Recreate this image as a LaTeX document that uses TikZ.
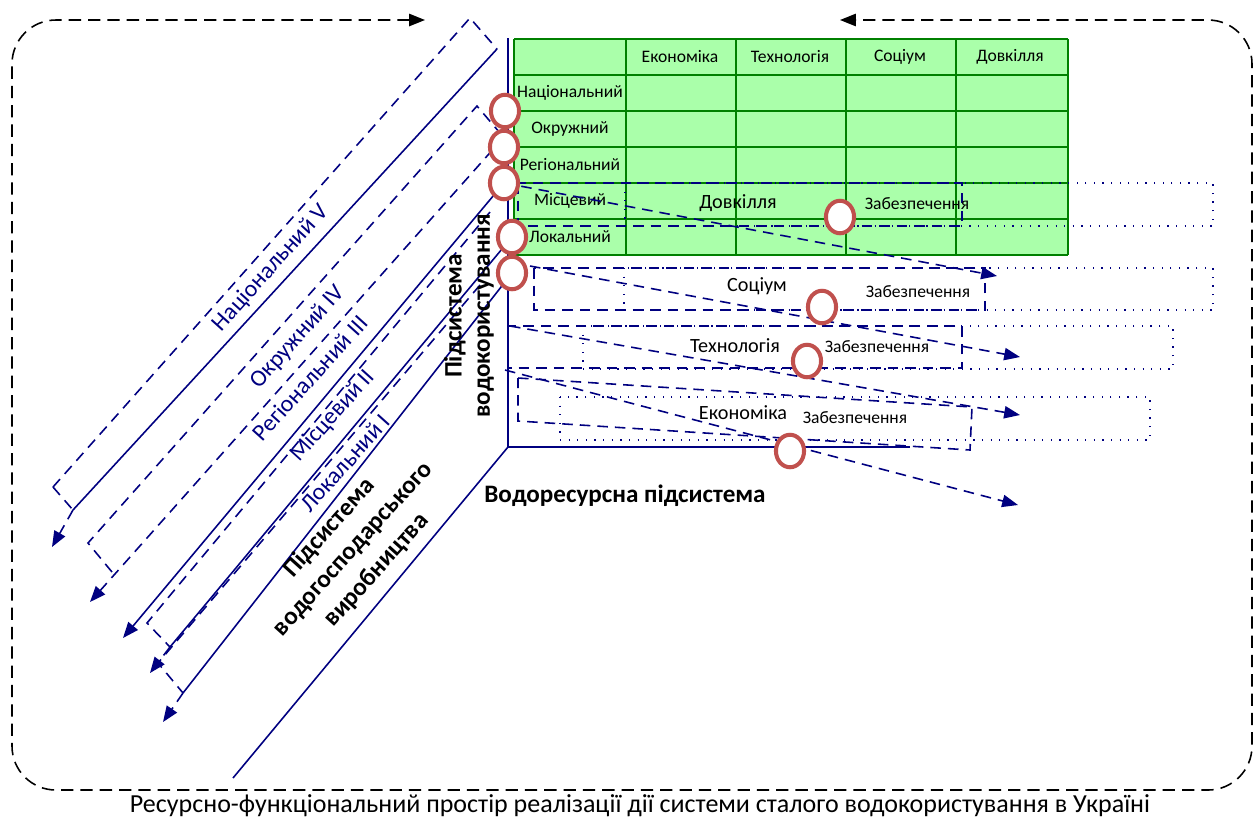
\documentclass[tikz,border=0pt]{standalone}
\usepackage{fontspec}
\setmainfont{Carlito}
\usetikzlibrary{arrows.meta,shapes.geometric,positioning}

\definecolor{levelblue}{RGB}{0,0,128}
\definecolor{ringred}{RGB}{192,80,77}
\definecolor{cellgreen}{RGB}{170,255,170}
\definecolor{gridgreen}{RGB}{0,128,0}

\tikzset{
  axisline/.style={levelblue, line width=0.9pt},
  dashline/.style={levelblue, line width=0.9pt, dash pattern=on 6pt off 4pt},
  dotline/.style={levelblue, line width=0.7pt, dash pattern=on 0.7pt off 4.2pt},
  tip/.style={arrows=-{Triangle[length=9pt,width=7pt]}},
  ring/.style={ellipse, draw=ringred, fill=white, line width=2.3pt,
    minimum width=16pt, minimum height=18.5pt, inner sep=0pt},
  celltext/.style={font=\fontsize{10}{12}\selectfont, inner sep=0pt},
  levellabel/.style={levelblue, font=\fontsize{13.5}{16}\selectfont, rotate=48, inner sep=0pt},
  subsys/.style={font=\bfseries\fontsize{14.3}{16}\selectfont, align=center, inner sep=0pt},
  rowname/.style={font=\fontsize{11.5}{14}\selectfont, inner sep=0pt},
  supply/.style={font=\fontsize{10}{12}\selectfont, inner sep=0pt},
}

\begin{document}
\begin{tikzpicture}[x=0.02cm, y=-0.02cm]
    \useasboundingbox (0,0) rectangle (1258,823);

    % frame and caption
    \draw[black, line width=0.9pt, dash pattern=on 7pt off 4pt, rounded corners=25pt,
      arrows={Triangle[length=9pt,width=7pt]-Triangle[length=9pt,width=7pt]}]
      (425,20) -- (12,20) -- (12,790) -- (1252,790) -- (1252,20) -- (840,20);
    \node[font=\fontsize{14.8}{17}\selectfont] (caption) at (640,806)
      {Ресурсно-функціональний простір реалізації дії системи сталого водокористування в Україні};

    % table
    \fill[cellgreen] (514,39) rectangle (1068,255);
    \foreach \x in {514,626,736,846,956,1068}
      \draw[gridgreen, line width=1.1pt] (\x,39) -- (\x,255);
    \foreach \y in {39,75,111,147,183,219,255}
      \draw[gridgreen, line width=1.1pt] (514,\y) -- (1068,\y);
    \foreach \t [count=\i] in {Економіка,Технологія,Соціум,Довкілля}
      \node[celltext] (head\i) at (570+110*\i,57) {\t};
    \foreach \t [count=\i] in {Національний,Окружний,Регіональний,Місцевий,Локальний}
      \node[celltext] (row\i) at (570,57+36*\i) {\t};

    % axes
    \coordinate (O) at (508,447);
    \draw[axisline] (508,38) -- (O) -- (910,447);
    \draw[axisline] (O) -- (233,778);

    % levels, left side
    \draw[dashline] (53,487) -- (470,18) -- (497,49);
    \draw[axisline] (497,49) -- (73,510);
    \draw[dashline] (53,487) -- (73,510);
    \draw[dashline, tip] (73,510) -- (52,547);

    \draw[dashline] (112,572) -- (88,543) -- (477,106) -- (500,133);
    \draw[dashline, tip] (504,137) -- (90,602);

    \draw[axisline, tip] (504,183) -- (123,638);

    \draw[dashline] (490,212) -- (147,623) -- (170,647);
    \draw[axisline] (512,237) -- (170,647);
    \draw[dashline, tip] (170,647) -- (150,673);

    \draw[dashline] (480,285) -- (158,663) -- (183,693);
    \draw[axisline] (512,273) -- (183,693);
    \draw[dashline, tip] (183,693) -- (163,722);

    \node[levellabel] (lvl5) at (271,268) {Національний V};
    \node[levellabel] (lvl4) at (298,337) {Окружний IV};
    \node[levellabel] (lvl3) at (310,378) {Регіональний III};
    \node[levellabel] (lvl2) at (333,416) {Місцевий II};
    \node[levellabel] (lvl1) at (345,463) {Локальний I};

    % subsystems
    \node[subsys, rotate=90] (useSub) at (469,316) {Підсистема\\водокористування};
    \node[subsys, rotate=48, font=\bfseries\fontsize{14.3}{18}\selectfont] (prodSub) at (353,549)
      {Підсистема\\водогосподарського\\виробництва};
    \node[subsys] (resSub) at (625,496) {Водоресурсна підсистема};

    % rows, right side
    \draw[dotline] (625,183) rectangle (1213,226);
    \draw[dashline] (518,183) rectangle (962,226);
    \draw[dashline, tip] (504,183) -- (997,276);
    \node[rowname] (envName) at (738,203) {Довкілля};
    \node[supply] (envSup) at (917,204) {Забезпечення};

    \draw[dotline] (624,268) rectangle (1213,310);
    \draw[dashline] (534,268) rectangle (985,310);
    \draw[dashline, tip] (530,266) -- (1020,357);
    \node[rowname] (socName) at (757,286) {Соціум};
    \node[supply] (socSup) at (918,292) {Забезпечення};

    \draw[dotline] (583,326) rectangle (1173,369);
    \draw[dashline] (508,326) rectangle (962,368);
    \draw[dashline, tip] (510,326) -- (1020,415);
    \node[rowname] (techName) at (735,346) {Технологія};
    \node[supply] (techSup) at (877,347) {Забезпечення};

    \draw[dotline] (560,397) rectangle (1150,440);
    \draw[dashline] (518,378) -- (972,407) -- (970,450) -- (518,421) -- cycle;
    \draw[dashline, tip] (505,370) -- (1018,505);
    \node[rowname] (ecoName) at (743,413) {Економіка};
    \node[supply] (ecoSup) at (855,418) {Забезпечення};

    % rings
    \foreach \p [count=\i] in {(505,111),(504,147),(504,183),(512,237),(512,273),(840,217),(822,307),(807,361),(790,451)}
      \node[ring] (ring\i) at \p {};
\end{tikzpicture}
\end{document}
